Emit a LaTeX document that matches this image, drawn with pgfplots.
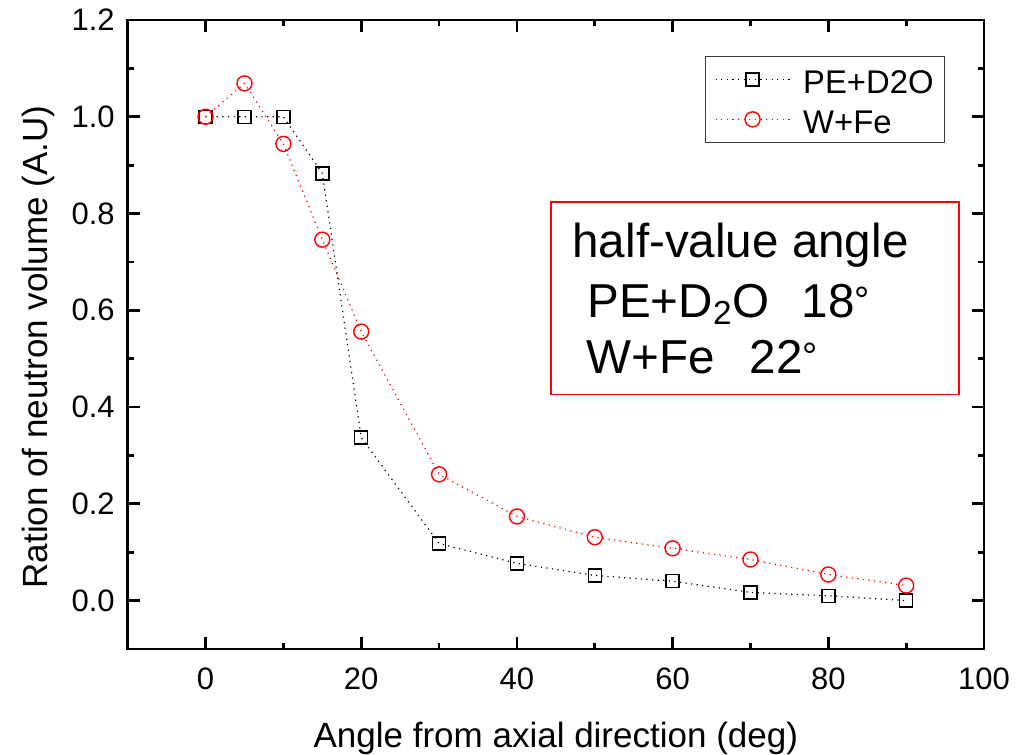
\documentclass[border=0pt]{standalone}
\usepackage{fontspec}
\setmainfont{Liberation Sans}
\usepackage{pgfplots}
\pgfplotsset{compat=1.18}
\definecolor{pred}{RGB}{255,0,0}
\definecolor{lgd}{RGB}{60,60,60}
\newcommand{\dg}{\raisebox{2pt}{\fontsize{19}{19}\selectfont °}}
\begin{document}
\begin{tikzpicture}
\path[use as bounding box] (-63.85pt,-53pt) rectangle (451.15pt,324.5pt);
\begin{axis}[
  scale only axis, width=428.15pt, height=314.5pt,
  xmin=-10, xmax=100, ymin=-0.1, ymax=1.2,
  xtick={0,20,40,60,80,100}, ytick={0,0.2,0.4,0.6,0.8,1.0,1.2},
  minor x tick num=1, minor y tick num=1,
  tick align=inside,
  major tick length=6pt, minor tick length=3pt,
  axis line style={line width=1.35pt},
  every tick/.append style={line width=1.35pt, black},
  yticklabel style={/pgf/number format/fixed, /pgf/number format/fixed zerofill, /pgf/number format/precision=1, /pgf/number format/assume math mode=true, xshift=-3pt},
  xticklabel style={/pgf/number format/assume math mode=true, yshift=-6pt},
  ticklabel style={font=\fontsize{15.5}{18}\selectfont},
  xlabel={Angle from axial direction (deg)},
  ylabel={Ration of neutron volume (A.U)},
  label style={font=\fontsize{17.5}{21}\selectfont},
  xlabel style={at={(axis description cs:0.5,-0.1415)},anchor=center},
  ylabel style={at={(axis description cs:-0.1046,0.48)},anchor=center},
  legend cell align=left,
  legend image code/.code={\draw[mark repeat=2,mark phase=2,#1] plot coordinates {(0pt,0pt) (18.5pt,0pt) (37pt,0pt)};},
  legend style={at={(axis description cs:0.9545,0.943)}, anchor=north east,
    draw=lgd, line width=0.5pt, font=\fontsize{16.4}{19}\selectfont,
    inner xsep=4.5pt, inner ysep=3pt, row sep=3pt, column sep=5.5pt,
    nodes={inner sep=1pt, text height=14.5pt, text depth=0.5pt}},
]
\addplot[black, line width=0.6pt, dash pattern=on 0.6pt off 2.2pt, mark=square, mark size=3.25pt, mark options={solid, line width=0.7pt}] coordinates {
(0,1.0) (5,1.0) (10,1.0) (15,0.883) (20,0.337) (30,0.118) (40,0.077) (50,0.052) (60,0.040) (70,0.017) (80,0.010) (90,0.0)};
\addplot[pred, line width=0.6pt, dash pattern=on 0.6pt off 2.2pt, mark=o, mark size=3.75pt, mark options={solid, line width=0.7pt}] coordinates {
(0,1.0) (5,1.069) (10,0.944) (15,0.746) (20,0.556) (30,0.261) (40,0.174) (50,0.131) (60,0.108) (70,0.085) (80,0.054) (90,0.031)};
\legend{PE+D2O, W+Fe}
\draw[pred, line width=0.8pt] (axis cs:44.4,0.8236) rectangle (axis cs:96.8,0.426);
\node[anchor=base west, inner sep=0, font=\fontsize{23.8}{29}\selectfont] at (axis cs:47.09,0.710) {half-value angle};
\node[anchor=base west, inner sep=0, font=\fontsize{23.8}{29}\selectfont] at (axis cs:49.0,0.586) {PE+D\textsubscript{2}O\hspace{16pt}18\dg};
\node[anchor=base west, inner sep=0, font=\fontsize{23.8}{29}\selectfont] at (axis cs:48.9,0.4696) {W+Fe\hspace{17.5pt}22\dg};
\end{axis}
\end{tikzpicture}
\end{document}
